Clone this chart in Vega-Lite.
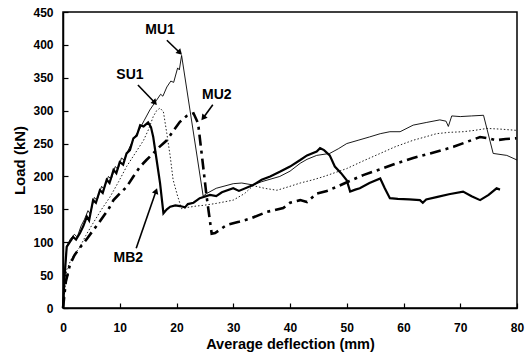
{
  "$schema": "https://vega.github.io/schema/vega-lite/v6.json",
  "width": 454,
  "height": 296,
  "autosize": {"type": "none"},
  "padding": {"left": 63, "top": 12, "right": 14, "bottom": 49},
  "config": {
    "font": "Liberation Sans",
    "view": {"stroke": "black", "strokeWidth": 1.5},
    "axis": {"grid": false, "domainColor": "black", "tickColor": "black", "labelColor": "black", "titleColor": "black", "labelFont": "Liberation Sans", "titleFont": "Liberation Sans", "labelFontWeight": "bold", "titleFontWeight": "bold", "labelFontSize": 12, "titleFontSize": 14.5, "domainWidth": 1.5, "tickWidth": 1.2, "labelOverlap": false, "labelFlush": false}
  },
  "datasets": {
    "curves": [
      {"s": "MB2", "x": 0, "y": 0}, {"s": "MB2", "x": 0.3, "y": 50}, {"s": "MB2", "x": 0.65, "y": 93}, {"s": "MB2", "x": 1.2, "y": 100}, {"s": "MB2", "x": 1.8, "y": 108}, {"s": "MB2", "x": 2.3, "y": 104}, {"s": "MB2", "x": 3, "y": 114}, {"s": "MB2", "x": 3.6, "y": 125}, {"s": "MB2", "x": 4.2, "y": 139}, {"s": "MB2", "x": 4.6, "y": 133}, {"s": "MB2", "x": 5.3, "y": 164}, {"s": "MB2", "x": 5.8, "y": 160}, {"s": "MB2", "x": 6.5, "y": 179}, {"s": "MB2", "x": 7, "y": 175}, {"s": "MB2", "x": 7.7, "y": 195}, {"s": "MB2", "x": 8.2, "y": 190}, {"s": "MB2", "x": 8.9, "y": 210}, {"s": "MB2", "x": 9.4, "y": 205}, {"s": "MB2", "x": 10, "y": 222}, {"s": "MB2", "x": 10.6, "y": 218}, {"s": "MB2", "x": 11.2, "y": 235}, {"s": "MB2", "x": 11.8, "y": 240}, {"s": "MB2", "x": 12.4, "y": 258}, {"s": "MB2", "x": 13, "y": 262}, {"s": "MB2", "x": 13.6, "y": 278}, {"s": "MB2", "x": 14.2, "y": 276}, {"s": "MB2", "x": 15, "y": 282}, {"s": "MB2", "x": 15.5, "y": 275}, {"s": "MB2", "x": 15.9, "y": 260}, {"s": "MB2", "x": 16.5, "y": 225}, {"s": "MB2", "x": 17.1, "y": 190}, {"s": "MB2", "x": 17.7, "y": 144}, {"s": "MB2", "x": 18.3, "y": 150}, {"s": "MB2", "x": 18.9, "y": 154}, {"s": "MB2", "x": 19.8, "y": 156}, {"s": "MB2", "x": 20.6, "y": 155}, {"s": "MB2", "x": 21.5, "y": 153}, {"s": "MB2", "x": 22, "y": 158}, {"s": "MB2", "x": 23, "y": 160}, {"s": "MB2", "x": 24.1, "y": 167}, {"s": "MB2", "x": 25.9, "y": 172}, {"s": "MB2", "x": 27, "y": 170}, {"s": "MB2", "x": 28, "y": 176}, {"s": "MB2", "x": 30, "y": 182}, {"s": "MB2", "x": 31, "y": 178}, {"s": "MB2", "x": 33.5, "y": 187}, {"s": "MB2", "x": 35, "y": 195}, {"s": "MB2", "x": 36.5, "y": 200}, {"s": "MB2", "x": 38.2, "y": 207}, {"s": "MB2", "x": 40, "y": 215}, {"s": "MB2", "x": 41.8, "y": 225}, {"s": "MB2", "x": 43, "y": 232}, {"s": "MB2", "x": 44.7, "y": 238}, {"s": "MB2", "x": 45.3, "y": 243}, {"s": "MB2", "x": 46, "y": 240}, {"s": "MB2", "x": 47, "y": 232}, {"s": "MB2", "x": 47.9, "y": 215}, {"s": "MB2", "x": 49, "y": 205}, {"s": "MB2", "x": 50, "y": 194}, {"s": "MB2", "x": 50.6, "y": 177}, {"s": "MB2", "x": 51.5, "y": 180}, {"s": "MB2", "x": 52.3, "y": 182}, {"s": "MB2", "x": 54, "y": 190}, {"s": "MB2", "x": 55.9, "y": 197}, {"s": "MB2", "x": 56.7, "y": 182}, {"s": "MB2", "x": 57.6, "y": 167}, {"s": "MB2", "x": 59, "y": 166}, {"s": "MB2", "x": 61, "y": 165}, {"s": "MB2", "x": 62.9, "y": 164}, {"s": "MB2", "x": 63.4, "y": 160}, {"s": "MB2", "x": 64, "y": 165}, {"s": "MB2", "x": 66, "y": 169}, {"s": "MB2", "x": 68, "y": 173}, {"s": "MB2", "x": 70.5, "y": 177}, {"s": "MB2", "x": 72, "y": 170}, {"s": "MB2", "x": 73.5, "y": 164}, {"s": "MB2", "x": 75, "y": 172}, {"s": "MB2", "x": 76.4, "y": 182}, {"s": "MB2", "x": 77, "y": 180},

      {"s": "MU1", "x": 0, "y": 0}, {"s": "MU1", "x": 0.3, "y": 55}, {"s": "MU1", "x": 0.7, "y": 95}, {"s": "MU1", "x": 1.3, "y": 105}, {"s": "MU1", "x": 2, "y": 112}, {"s": "MU1", "x": 2.5, "y": 108}, {"s": "MU1", "x": 3.2, "y": 125}, {"s": "MU1", "x": 3.8, "y": 135}, {"s": "MU1", "x": 4.4, "y": 148}, {"s": "MU1", "x": 4.8, "y": 143}, {"s": "MU1", "x": 5.5, "y": 168}, {"s": "MU1", "x": 6, "y": 164}, {"s": "MU1", "x": 6.8, "y": 185}, {"s": "MU1", "x": 7.2, "y": 181}, {"s": "MU1", "x": 8, "y": 200}, {"s": "MU1", "x": 8.5, "y": 196}, {"s": "MU1", "x": 9.2, "y": 215}, {"s": "MU1", "x": 9.7, "y": 211}, {"s": "MU1", "x": 10.3, "y": 228}, {"s": "MU1", "x": 10.8, "y": 225}, {"s": "MU1", "x": 11.5, "y": 240}, {"s": "MU1", "x": 12.5, "y": 258}, {"s": "MU1", "x": 13.5, "y": 272}, {"s": "MU1", "x": 14.3, "y": 285}, {"s": "MU1", "x": 15.3, "y": 301}, {"s": "MU1", "x": 16, "y": 310}, {"s": "MU1", "x": 16.5, "y": 316}, {"s": "MU1", "x": 17.2, "y": 325}, {"s": "MU1", "x": 17.6, "y": 322}, {"s": "MU1", "x": 18.3, "y": 336}, {"s": "MU1", "x": 19, "y": 345}, {"s": "MU1", "x": 19.5, "y": 343}, {"s": "MU1", "x": 20.2, "y": 365}, {"s": "MU1", "x": 20.5, "y": 362}, {"s": "MU1", "x": 20.9, "y": 384}, {"s": "MU1", "x": 24.7, "y": 170}, {"s": "MU1", "x": 25.3, "y": 174}, {"s": "MU1", "x": 27, "y": 182}, {"s": "MU1", "x": 30, "y": 189}, {"s": "MU1", "x": 31.5, "y": 190}, {"s": "MU1", "x": 33.5, "y": 187}, {"s": "MU1", "x": 35, "y": 192}, {"s": "MU1", "x": 38.2, "y": 200}, {"s": "MU1", "x": 40, "y": 208}, {"s": "MU1", "x": 41.8, "y": 220}, {"s": "MU1", "x": 43, "y": 226}, {"s": "MU1", "x": 44.7, "y": 232}, {"s": "MU1", "x": 47, "y": 235}, {"s": "MU1", "x": 48.5, "y": 242}, {"s": "MU1", "x": 50, "y": 250}, {"s": "MU1", "x": 52, "y": 255}, {"s": "MU1", "x": 54, "y": 260}, {"s": "MU1", "x": 55.9, "y": 265}, {"s": "MU1", "x": 57.6, "y": 268}, {"s": "MU1", "x": 59.4, "y": 268}, {"s": "MU1", "x": 61.7, "y": 278}, {"s": "MU1", "x": 64, "y": 282}, {"s": "MU1", "x": 66.4, "y": 286}, {"s": "MU1", "x": 67.5, "y": 284}, {"s": "MU1", "x": 67.9, "y": 276}, {"s": "MU1", "x": 68.5, "y": 292}, {"s": "MU1", "x": 70, "y": 291}, {"s": "MU1", "x": 72, "y": 292}, {"s": "MU1", "x": 74.1, "y": 293}, {"s": "MU1", "x": 75.8, "y": 235}, {"s": "MU1", "x": 78.2, "y": 232}, {"s": "MU1", "x": 80, "y": 225},

      {"s": "SU1", "x": 0, "y": 0}, {"s": "SU1", "x": 0.65, "y": 58}, {"s": "SU1", "x": 1.5, "y": 75}, {"s": "SU1", "x": 3, "y": 93}, {"s": "SU1", "x": 4, "y": 110}, {"s": "SU1", "x": 5.3, "y": 129}, {"s": "SU1", "x": 6.8, "y": 150}, {"s": "SU1", "x": 8.3, "y": 169}, {"s": "SU1", "x": 9.8, "y": 192}, {"s": "SU1", "x": 11.2, "y": 215}, {"s": "SU1", "x": 12.7, "y": 235}, {"s": "SU1", "x": 14.2, "y": 255}, {"s": "SU1", "x": 15.1, "y": 272}, {"s": "SU1", "x": 15.9, "y": 291}, {"s": "SU1", "x": 16.5, "y": 300}, {"s": "SU1", "x": 17.1, "y": 304}, {"s": "SU1", "x": 17.7, "y": 298}, {"s": "SU1", "x": 18.3, "y": 265}, {"s": "SU1", "x": 18.9, "y": 230}, {"s": "SU1", "x": 19.4, "y": 195}, {"s": "SU1", "x": 20.2, "y": 170}, {"s": "SU1", "x": 20.9, "y": 151}, {"s": "SU1", "x": 22, "y": 153}, {"s": "SU1", "x": 23.5, "y": 155}, {"s": "SU1", "x": 24.7, "y": 156}, {"s": "SU1", "x": 27, "y": 159}, {"s": "SU1", "x": 30, "y": 164}, {"s": "SU1", "x": 32, "y": 174}, {"s": "SU1", "x": 33.5, "y": 186}, {"s": "SU1", "x": 35.5, "y": 182}, {"s": "SU1", "x": 37.7, "y": 179}, {"s": "SU1", "x": 40, "y": 185}, {"s": "SU1", "x": 41.8, "y": 190}, {"s": "SU1", "x": 44.1, "y": 195}, {"s": "SU1", "x": 46, "y": 200}, {"s": "SU1", "x": 48, "y": 206}, {"s": "SU1", "x": 50, "y": 212}, {"s": "SU1", "x": 53, "y": 224}, {"s": "SU1", "x": 55.9, "y": 235}, {"s": "SU1", "x": 58.5, "y": 245}, {"s": "SU1", "x": 61.7, "y": 255}, {"s": "SU1", "x": 63.8, "y": 260}, {"s": "SU1", "x": 65.8, "y": 265}, {"s": "SU1", "x": 68, "y": 267}, {"s": "SU1", "x": 70.5, "y": 268}, {"s": "SU1", "x": 72.5, "y": 270}, {"s": "SU1", "x": 74.7, "y": 273}, {"s": "SU1", "x": 77, "y": 272}, {"s": "SU1", "x": 80, "y": 270},

      {"s": "MU2", "x": 0, "y": 0}, {"s": "MU2", "x": 0.5, "y": 40}, {"s": "MU2", "x": 1.2, "y": 65}, {"s": "MU2", "x": 2, "y": 80}, {"s": "MU2", "x": 3, "y": 92}, {"s": "MU2", "x": 4.2, "y": 105}, {"s": "MU2", "x": 5.3, "y": 118}, {"s": "MU2", "x": 6.2, "y": 128}, {"s": "MU2", "x": 7.1, "y": 139}, {"s": "MU2", "x": 8, "y": 150}, {"s": "MU2", "x": 8.9, "y": 164}, {"s": "MU2", "x": 10, "y": 174}, {"s": "MU2", "x": 11.2, "y": 184}, {"s": "MU2", "x": 12.4, "y": 200}, {"s": "MU2", "x": 13.6, "y": 215}, {"s": "MU2", "x": 14.7, "y": 225}, {"s": "MU2", "x": 15.9, "y": 235}, {"s": "MU2", "x": 17, "y": 245}, {"s": "MU2", "x": 18.3, "y": 255}, {"s": "MU2", "x": 19.5, "y": 270}, {"s": "MU2", "x": 20.6, "y": 283}, {"s": "MU2", "x": 21.8, "y": 292}, {"s": "MU2", "x": 23, "y": 296}, {"s": "MU2", "x": 23.8, "y": 281}, {"s": "MU2", "x": 24.5, "y": 230}, {"s": "MU2", "x": 25.3, "y": 170}, {"s": "MU2", "x": 26.2, "y": 113}, {"s": "MU2", "x": 26.8, "y": 114}, {"s": "MU2", "x": 28.8, "y": 126}, {"s": "MU2", "x": 31, "y": 131}, {"s": "MU2", "x": 33, "y": 136}, {"s": "MU2", "x": 35.9, "y": 146}, {"s": "MU2", "x": 38.8, "y": 152}, {"s": "MU2", "x": 40, "y": 160}, {"s": "MU2", "x": 41.8, "y": 164}, {"s": "MU2", "x": 43, "y": 161}, {"s": "MU2", "x": 44.7, "y": 174}, {"s": "MU2", "x": 46.5, "y": 178}, {"s": "MU2", "x": 48.2, "y": 184}, {"s": "MU2", "x": 50.5, "y": 193}, {"s": "MU2", "x": 52.9, "y": 202}, {"s": "MU2", "x": 55.9, "y": 211}, {"s": "MU2", "x": 58.8, "y": 220}, {"s": "MU2", "x": 61.7, "y": 228}, {"s": "MU2", "x": 64.7, "y": 235}, {"s": "MU2", "x": 66.8, "y": 240}, {"s": "MU2", "x": 68.8, "y": 245}, {"s": "MU2", "x": 71, "y": 252}, {"s": "MU2", "x": 73.5, "y": 260}, {"s": "MU2", "x": 75, "y": 258}, {"s": "MU2", "x": 76.4, "y": 255}, {"s": "MU2", "x": 78, "y": 257}, {"s": "MU2", "x": 79.9, "y": 258}
    ],
    "labels": [
      {"s": "MU1", "tx": 17.1, "ty": 422, "ax": 18.3, "ay": 407, "bx": 20.6, "by": 388},
      {"s": "SU1", "tx": 11.8, "ty": 354, "ax": 13.2, "ay": 339, "bx": 16.2, "by": 312},
      {"s": "MU2", "tx": 27.1, "ty": 324, "ax": 26.4, "ay": 309, "bx": 24.7, "by": 289},
      {"s": "MB2", "tx": 11.5, "ty": 76, "ax": 12.9, "ay": 91, "bx": 16.4, "by": 178}
    ]
  },
  "encoding": {
    "x": {"type": "quantitative", "scale": {"domain": [0, 80], "nice": false}, "axis": {"values": [0,10,20,30,40,50,60,70,80], "tickSize": -5, "labelPadding": 19, "labelOverlap": false, "title": "Average deflection (mm)", "titlePadding": 4}},
    "y": {"type": "quantitative", "scale": {"domain": [0, 450], "nice": false}, "axis": {"values": [0,50,100,150,200,250,300,350,400,450], "tickSize": -5, "labelPadding": 15, "labelOverlap": false, "labelBound": false, "labelSeparation": 0, "title": "Load (kN)", "titlePadding": 5, "titleFontSize": 15}}
  },
  "layer": [
    {
      "data": {"name": "curves"},
      "transform": [{"filter": "datum.s === 'SU1'"}],
      "mark": {"type": "line", "color": "#222", "strokeWidth": 1, "strokeDash": [1.5, 2]},
      "encoding": {"x": {"field": "x"}, "y": {"field": "y"}}
    },
    {
      "data": {"name": "curves"},
      "transform": [{"filter": "datum.s === 'MU1'"}],
      "mark": {"type": "line", "color": "black", "strokeWidth": 0.9},
      "encoding": {"x": {"field": "x"}, "y": {"field": "y"}}
    },
    {
      "data": {"name": "curves"},
      "transform": [{"filter": "datum.s === 'MU2'"}],
      "mark": {"type": "line", "color": "black", "strokeWidth": 2.6, "strokeDash": [11, 5, 3, 5]},
      "encoding": {"x": {"field": "x"}, "y": {"field": "y"}}
    },
    {
      "data": {"name": "curves"},
      "transform": [{"filter": "datum.s === 'MB2'"}],
      "mark": {"type": "line", "color": "black", "strokeWidth": 2.2},
      "encoding": {"x": {"field": "x"}, "y": {"field": "y"}}
    },
    {
      "data": {"name": "labels"},
      "mark": {"type": "text", "font": "Liberation Sans", "fontWeight": "bold", "fontSize": 14, "color": "black", "align": "center", "baseline": "middle"},
      "encoding": {"x": {"field": "tx"}, "y": {"field": "ty"}, "text": {"field": "s"}}
    },
    {
      "data": {"name": "labels"},
      "mark": {"type": "rule", "color": "black", "strokeWidth": 1.6},
      "encoding": {"x": {"field": "ax"}, "y": {"field": "ay"}, "x2": {"field": "bx"}, "y2": {"field": "by"}}
    },
    {
      "data": {"name": "labels"},
      "transform": [{"filter": "datum.s === 'MU1'"}],
      "mark": {"type": "point", "shape": "triangle-up", "filled": true, "color": "black", "size": 45, "opacity": 1, "angle": 135},
      "encoding": {"x": {"field": "bx"}, "y": {"field": "by"}}
    },
    {
      "data": {"name": "labels"},
      "transform": [{"filter": "datum.s === 'SU1'"}],
      "mark": {"type": "point", "shape": "triangle-up", "filled": true, "color": "black", "size": 45, "opacity": 1, "angle": 137},
      "encoding": {"x": {"field": "bx"}, "y": {"field": "by"}}
    },
    {
      "data": {"name": "labels"},
      "transform": [{"filter": "datum.s === 'MU2'"}],
      "mark": {"type": "point", "shape": "triangle-up", "filled": true, "color": "black", "size": 45, "opacity": 1, "angle": 218},
      "encoding": {"x": {"field": "bx"}, "y": {"field": "by"}}
    },
    {
      "data": {"name": "labels"},
      "transform": [{"filter": "datum.s === 'MB2'"}],
      "mark": {"type": "point", "shape": "triangle-up", "filled": true, "color": "black", "size": 45, "opacity": 1, "angle": 19},
      "encoding": {"x": {"field": "bx"}, "y": {"field": "by"}}
    }
  ]
}
